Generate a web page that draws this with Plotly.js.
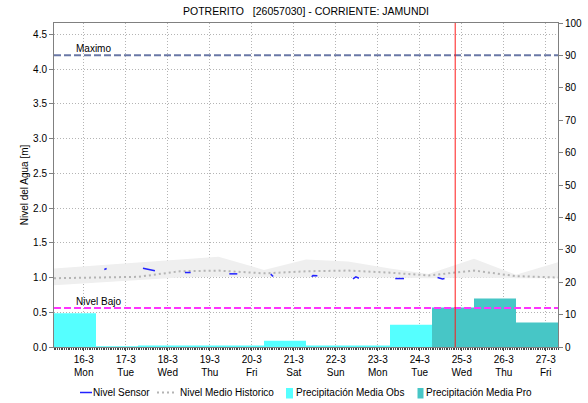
<!DOCTYPE html>
<html><head><meta charset="utf-8">
<script src="https://cdn.plot.ly/plotly-3.0.1.min.js"></script>
<style>html,body{margin:0;padding:0;background:#fff;}#chart{width:588px;height:403px;}</style>
</head><body><div id="chart"></div>
<script>
const titleText = 'POTRERITO\u00a0\u00a0\u00a0[26057030] - CORRIENTE: JAMUNDI';
const yTitleLeft = 'Nivel del Agua [m]';
const yTitleRight = 'Precipitación [mm]';

// Daily precipitation (day windows 07:00 -> 07:00)
const obsDays = ['2026-03-15','2026-03-16','2026-03-17','2026-03-18','2026-03-19','2026-03-20','2026-03-21','2026-03-22','2026-03-23'];
const obsPrecip = [10.4, 0.2, 0.5, 0.5, 0.5, 1.9, 0.5, 0.5, 6.9];
const proDays = ['2026-03-24','2026-03-25','2026-03-26'];
const proPrecip = [12.2, 15.0, 7.6];

// Sensor level (gaps = null)
const sensorTimes = [
 '2026-03-16 11:45','2026-03-16 12:25','2026-03-16 13:05','2026-03-16 20:00',
 '2026-03-17 09:50','2026-03-17 11:00','2026-03-17 12:10','2026-03-17 13:30','2026-03-17 15:00','2026-03-17 16:40','2026-03-17 22:00',
 '2026-03-18 09:50','2026-03-18 13:05','2026-03-18 20:00',
 '2026-03-19 11:10','2026-03-19 15:45','2026-03-19 20:00',
 '2026-03-20 10:50','2026-03-20 11:30','2026-03-20 12:15','2026-03-20 20:00',
 '2026-03-21 10:15','2026-03-21 11:00','2026-03-21 13:30','2026-03-21 20:00',
 '2026-03-22 09:50','2026-03-22 11:30','2026-03-22 13:15','2026-03-22 20:00',
 '2026-03-23 10:00','2026-03-23 15:00','2026-03-23 20:00',
 '2026-03-24 10:10','2026-03-24 11:30','2026-03-24 13:00','2026-03-24 14:10'
];
const sensorLevels = [
 1.115,1.125,1.13,null,
 1.135,1.13,1.12,1.115,1.105,1.097,null,
 1.072,1.072,null,
 1.053,1.053,null,
 1.049,1.035,1.015,null,
 1.01,1.03,1.025,null,
 0.981,1.01,0.99,null,
 0.985,0.985,null,
 1.0,0.99,0.98,0.985
];

// Historic level band
const histTimes = ['2026-03-15 07:00','2026-03-16 07:00','2026-03-17 07:00','2026-03-17 19:00','2026-03-18 07:00','2026-03-19 05:00','2026-03-20 07:00','2026-03-21 07:00','2026-03-22 07:00','2026-03-23 07:00','2026-03-24 05:00','2026-03-25 07:00','2026-03-26 07:00','2026-03-27 07:00'];
const histUpper  = [1.13,1.17,1.21,1.24,1.26,1.30,1.11,1.26,1.23,1.13,1.05,1.27,1.04,1.22];
const histMedian = [0.99,1.00,1.01,1.05,1.09,1.10,1.06,1.09,1.10,1.07,1.03,1.10,1.02,1.00];
const histLower  = [0.89,0.93,0.97,0.99,1.00,1.01,1.01,1.01,1.01,1.00,0.99,1.00,0.99,0.99];

const thresholdNames = ['Maximo','Nivel Bajo'];
const thresholdValues = [4.2, 0.56];

const legendNames = ['Nivel Sensor','Nivel Medio Historico','Precipitación Media Obs','Precipitación Media Pro'];

const currentTime = '2026-03-24 20:15';
const xStart = '2026-03-15 07:00';
const xEnd = '2026-03-27 07:00';
const DAY = 86400000;

// styles
const C_SENSOR = '#2222ff', C_MEDIAN = '#b4b4b4', C_BAND = '#efefef';
const C_OBS = '#55ffff', C_PRO = '#47c6c6';
const thresholdColors = ['#6a78a6','#ff33ff'];

const traces = [];
traces.push({x: histTimes, y: histLower, yaxis:'y2', mode:'lines', line:{width:0, color:'rgba(0,0,0,0)'}, showlegend:false, hoverinfo:'skip'});
traces.push({x: histTimes, y: histUpper, yaxis:'y2', mode:'lines', line:{width:0, color:'rgba(0,0,0,0)'}, fill:'tonexty', fillcolor:C_BAND, showlegend:false, hoverinfo:'skip'});
traces.push({x: histTimes, y: histMedian, yaxis:'y2', mode:'lines', name:legendNames[1], line:{color:C_MEDIAN, width:2, dash:'2px,3px'}});
thresholdNames.forEach((n,i)=>{
  traces.push({x:[xStart,xEnd], y:[thresholdValues[i],thresholdValues[i]], yaxis:'y2', mode:'lines', name:n, line:{color:thresholdColors[i], width:2, dash:'7px,3px'}});
});
traces.push({x: sensorTimes, y: sensorLevels, yaxis:'y2', mode:'lines', name:legendNames[0], line:{color:C_SENSOR, width:1.5}, connectgaps:false});
traces.push({type:'bar', x: obsDays.map(d=>d+' 07:00'), y: obsPrecip, yaxis:'y', width: obsDays.map(()=>DAY), offset:0, name:legendNames[2], marker:{color:C_OBS, line:{width:0}}});
traces.push({type:'bar', x: proDays.map(d=>d+' 07:00'), y: proPrecip, yaxis:'y', width: proDays.map(()=>DAY), offset:0, name:legendNames[3], marker:{color:C_PRO, line:{width:0}}});

// pixel -> paper helpers (plot area: x 54..558, y 23..347)
const px = v => (v-54)/504;
const py = v => (347-v)/324;

const annotations = thresholdNames.map((n,i)=>({
  text:n, xref:'x', x:'2026-03-15 19:00', xanchor:'left', yref:'y2', y:thresholdValues[i], yanchor:'bottom', showarrow:false, font:{size:10,color:'#000'}, borderpad:0
}));
annotations.push({text:yTitleRight, xref:'paper', x:px(594), xanchor:'center', yref:'paper', y:0.5, yanchor:'middle', textangle:90, showarrow:false, font:{size:10,color:'#000'}});

// custom legend row (matches the compact legend of the reference)
const legY = 392.5;
const legTextX = [92, 179, 295, 425];
legendNames.forEach((n,i)=>{
  annotations.push({text:n, xref:'paper', x:px(legTextX[i]), xanchor:'left', yref:'paper', y:py(legY), yanchor:'middle', showarrow:false, font:{size:10,color:'#000'}, borderpad:0});
});
const shapes = [
  {type:'line', xref:'x', yref:'paper', x0:currentTime, x1:currentTime, y0:0, y1:1, line:{color:'#ff1a1a', width:1}, layer:'above'},
  {type:'line', xref:'paper', yref:'paper', x0:px(80), x1:px(92), y0:py(legY), y1:py(legY), line:{color:C_SENSOR, width:1.5}},
  {type:'line', xref:'paper', yref:'paper', x0:px(157), x1:px(176), y0:py(legY), y1:py(legY), line:{color:C_MEDIAN, width:2, dash:'2px,3px'}},
  {type:'rect', xref:'paper', yref:'paper', x0:px(286), x1:px(293), y0:py(388), y1:py(398.5), line:{width:0}, fillcolor:C_OBS},
  {type:'rect', xref:'paper', yref:'paper', x0:px(417.5), x1:px(423.5), y0:py(388), y1:py(398.5), line:{width:0}, fillcolor:C_PRO}
];

const layout = {
  width:588, height:403,
  margin:{l:54, r:30, t:23, b:56},
  paper_bgcolor:'#fff', plot_bgcolor:'#fff',
  font:{family:'Liberation Sans, Arial, sans-serif', size:10, color:'#000'},
  title:{text:titleText, font:{size:10.5,color:'#000'}, x:0.5, xref:'paper', xanchor:'center', y:1-11.5/403, yref:'container', yanchor:'middle'},
  showlegend:false,
  barmode:'overlay',
  xaxis:{type:'date', range:[xStart,xEnd], tick0:'2026-03-16', dtick:DAY, tickformat:'%-d-%-m<br>%a',
    showgrid:true, gridcolor:'#b4b4b4', griddash:'1px,2px', gridwidth:1,
    showline:true, linecolor:'#808080', mirror:true, ticks:'outside', ticklen:3, tickcolor:'#444',
    minor:{dtick:3600000, tick0:'2026-03-15', ticks:'outside', ticklen:2, tickcolor:'#444', showgrid:false},
    zeroline:false, tickfont:{size:10}},
  yaxis:{range:[0,100], side:'right', tick0:0, dtick:10, showgrid:false, showline:true, linecolor:'#808080', ticks:'outside', ticklen:4, tickcolor:'#808080', zeroline:false, tickfont:{size:10}},
  yaxis2:{overlaying:'y', side:'left', range:[0,4.664], tick0:0, dtick:0.5, tickformat:'.1f',
    showgrid:true, gridcolor:'#b4b4b4', griddash:'1px,2px', gridwidth:1,
    showline:true, linecolor:'#808080', ticks:'outside', ticklen:4, tickcolor:'#808080', zeroline:false, tickfont:{size:10},
    title:{text:yTitleLeft, font:{size:10}, standoff:2}},
  shapes: shapes,
  annotations: annotations
};
Plotly.newPlot('chart', traces, layout, {displayModeBar:false, staticPlot:true});
</script>
</body></html>
